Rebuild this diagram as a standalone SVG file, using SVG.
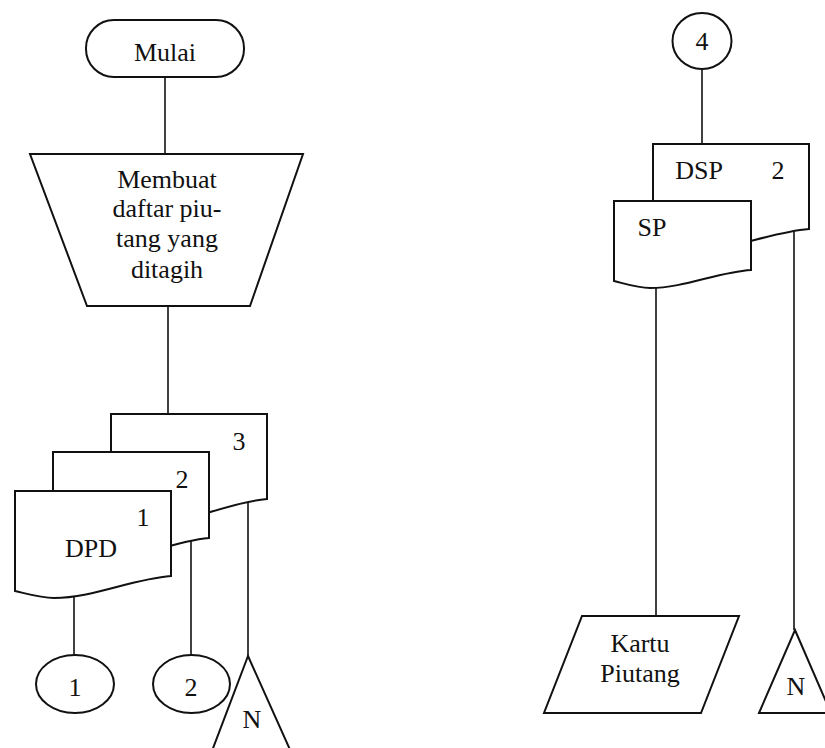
<svg xmlns="http://www.w3.org/2000/svg" width="825" height="748" viewBox="0 0 825 748">
  <style>
    .shape { fill: #ffffff; stroke: #111111; stroke-width: 2; stroke-linejoin: miter; }
    .link { fill: none; stroke: #111111; stroke-width: 1.6; }
    .lbl { font-family: 'Liberation Serif', 'Times New Roman', 'DejaVu Serif', serif; font-size: 26px; fill: #111111; text-anchor: middle; }
  </style>
  <rect width="825" height="748" fill="#ffffff"/>

  <!-- connectors -->
  <g id="connectors">
    <line class="link" x1="165" y1="77" x2="165" y2="154"/>
    <line class="link" x1="168" y1="306" x2="168" y2="414"/>
    <line class="link" x1="74" y1="596" x2="74" y2="655"/>
    <line class="link" x1="191" y1="541" x2="191" y2="655"/>
    <line class="link" x1="248" y1="500" x2="248" y2="656"/>
    <line class="link" x1="702" y1="69" x2="702" y2="144"/>
    <line class="link" x1="794" y1="230" x2="794" y2="630"/>
    <line class="link" x1="656" y1="286" x2="656" y2="616"/>
  </g>

  <g font-family="Liberation Serif, Times New Roman, DejaVu Serif, serif">
  <!-- left column -->
  <g id="mulai">
    <rect class="shape" x="86" y="20" width="158" height="57" rx="28" ry="28"/>
    <text class="lbl" x="165" y="61">Mulai</text>
  </g>

  <g id="membuat-daftar">
    <polygon class="shape" points="30,154 303,154 250,306 87,306"/>
    <text class="lbl" x="167" y="188">Membuat</text>
    <text class="lbl" x="167" y="217">daftar piu-</text>
    <text class="lbl" x="167" y="247">tang yang</text>
    <text class="lbl" x="167" y="278">ditagih</text>
  </g>

  <!-- DPD in three copies, back to front -->
  <g id="dpd-3">
    <path class="shape" d="M111,414 H267 V499 C228,502 189,524 150,524 C137,524 124,518 111,514 Z"/>
    <text class="lbl" x="239" y="450">3</text>
  </g>
  <g id="dpd-2">
    <path class="shape" d="M53,452 H209 V538 C170,541 131,563 92,563 C79,563 66,557 53,553 Z"/>
    <text class="lbl" x="182" y="488">2</text>
  </g>
  <g id="dpd-1">
    <path class="shape" d="M15,491 H171 V576 C132,579 93,598 54,598 C41,598 28,594 15,591 Z"/>
    <text class="lbl" x="143" y="526">1</text>
    <text class="lbl" x="91" y="557">DPD</text>
  </g>

  <g id="connector-1">
    <ellipse class="shape" cx="75" cy="684" rx="39" ry="29"/>
    <text class="lbl" x="75" y="696">1</text>
  </g>
  <g id="connector-2">
    <ellipse class="shape" cx="191.5" cy="684" rx="38.5" ry="29"/>
    <text class="lbl" x="191" y="696">2</text>
  </g>
  <g id="arsip-n-left">
    <polygon class="shape" points="248,656 300,772 204,772"/>
    <text class="lbl" x="252" y="728">N</text>
  </g>

  <!-- right column -->
  <g id="connector-4">
    <ellipse class="shape" cx="702" cy="41" rx="29.5" ry="28"/>
    <text class="lbl" x="702" y="50">4</text>
  </g>

  <g id="dsp-2">
    <path class="shape" d="M653,144 H809 V229 C770,232 731,251 692,251 C679,251 666,247 653,244 Z"/>
    <text class="lbl" x="699" y="179">DSP</text>
    <text class="lbl" x="778" y="179">2</text>
  </g>
  <g id="sp">
    <path class="shape" d="M614,201 H751 V270 C718,272 684,288 650,288 C638,288 626,284 614,281 Z"/>
    <text class="lbl" x="652" y="236">SP</text>
  </g>

  <g id="kartu-piutang">
    <polygon class="shape" points="582,616 739,616 701,713 544,713"/>
    <text class="lbl" x="640" y="652">Kartu</text>
    <text class="lbl" x="640" y="682">Piutang</text>
  </g>

  <g id="arsip-n-right">
    <polygon class="shape" points="795,630 831,713 759,713"/>
    <text class="lbl" x="796" y="695">N</text>
  </g>
  </g>
</svg>
